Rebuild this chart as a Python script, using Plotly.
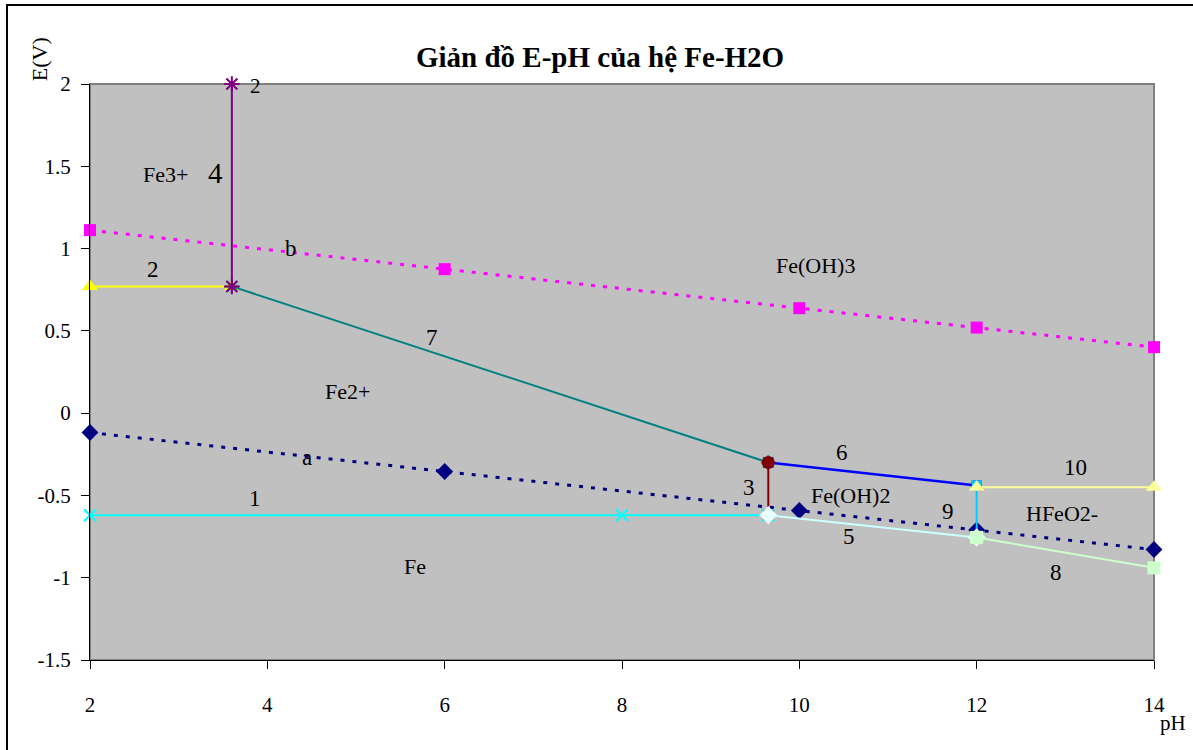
import plotly.graph_objects as go

# Water stability lines a and b (E vs pH)
ph_ab = [2, 6, 10, 12, 14]
e_a = [-0.118, -0.355, -0.592, -0.710, -0.829]
e_b = [1.112, 0.875, 0.638, 0.520, 0.401]

# Boundary lines of the Fe-H2O system, numbered 1..10
ph_1 = [2, 8, 9.65]
e_1 = [-0.62, -0.62, -0.62]
ph_2 = [2, 3.6]
e_2 = [0.77, 0.77]
ph_3 = [9.65, 9.65]
e_3 = [-0.30, -0.62]
ph_4 = [3.6, 3.6]
e_4 = [0.77, 2.0]
ph_5 = [9.65, 12]
e_5 = [-0.62, -0.755]
ph_6 = [9.65, 12]
e_6 = [-0.30, -0.44]
ph_7 = [3.6, 9.65]
e_7 = [0.77, -0.30]
ph_8 = [12, 14]
e_8 = [-0.755, -0.94]
ph_9 = [12, 12]
e_9 = [-0.44, -0.755]
ph_10 = [12, 14]
e_10 = [-0.45, -0.45]

x_ticks = [2, 4, 6, 8, 10, 12, 14]
y_ticks = [-1.5, -1, -0.5, 0, 0.5, 1, 1.5, 2]

FONT = "Liberation Serif, Times New Roman, serif"

# (text, pH, E, font size)
labels = [
    ("Fe3+", 2.85, 1.45, 22),
    ("4", 3.42, 1.46, 29),
    ("2", 3.87, 1.99, 21),
    ("b", 4.27, 1.00, 23),
    ("2", 2.71, 0.87, 23),
    ("Fe(OH)3", 10.18, 0.90, 22),
    ("7", 5.86, 0.46, 23),
    ("Fe2+", 4.90, 0.13, 22),
    ("a", 4.45, -0.27, 23),
    ("1", 3.86, -0.52, 23),
    ("Fe", 5.67, -0.93, 22),
    ("6", 10.48, -0.24, 23),
    ("10", 13.12, -0.33, 23),
    ("3", 9.43, -0.45, 23),
    ("Fe(OH)2", 10.58, -0.50, 22),
    ("9", 11.68, -0.60, 23),
    ("HFeO2-", 12.96, -0.61, 22),
    ("5", 10.56, -0.75, 23),
    ("8", 12.89, -0.97, 23),
]

fig = go.Figure()


def add_line(x, y, color, width, symbol, msize, mcolor, dash="solid", mline=None):
    marker = dict(symbol=symbol, size=msize, color=mcolor)
    if mline is not None:
        marker["line"] = mline
    fig.add_trace(go.Scatter(
        x=x, y=y, mode="lines+markers", cliponaxis=False,
        line=dict(color=color, width=width, dash=dash),
        marker=marker, hoverinfo="skip", showlegend=False,
    ))


add_line(ph_ab, e_a, "#000080", 3, "diamond", 13, "#000080", dash="4px,8px")
add_line(ph_ab, e_b, "#FF00FF", 3, "square", 12, "#FF00FF", dash="4px,8px")
add_line(ph_1, e_1, "#00FFFF", 2, "x-thin-open", 12, "#00FFFF",
         mline=dict(color="#00FFFF", width=2))
add_line(ph_2, e_2, "#FFFF00", 2, "triangle-up", 14, "#FFFF00")
add_line(ph_7, e_7, "#008080", 2, "asterisk-open", 12, "#008080",
         mline=dict(color="#008080", width=2))
add_line(ph_6, e_6, "#0000FF", 2.5, "square", 10, "#0000FF")
add_line(ph_9, e_9, "#00CCFF", 2, "square", 10, "#00CCFF")
add_line(ph_3, e_3, "#800000", 2, "circle", 13, "#800000")
add_line(ph_5, e_5, "#CCFFFF", 2, "diamond", 14, "#E8FFFF")
add_line(ph_8, e_8, "#CCFFCC", 2, "square", 13, "#CCFFCC")
add_line(ph_10, e_10, "#FFFF99", 2, "triangle-up", 14, "#FFFF99")
add_line(ph_4, e_4, "#800080", 2, "asterisk-open", 13, "#800080",
         mline=dict(color="#800080", width=2))

for text, px, py, size in labels:
    fig.add_annotation(x=px, y=py, text=text, showarrow=False,
                       font=dict(family=FONT, size=size, color="black"))

# chart title and axis captions
fig.add_annotation(xref="paper", yref="paper", x=0.479, y=1.047,
                   xanchor="center", yanchor="middle",
                   text="<b>Giản đồ E-pH của hệ Fe-H2O</b>", showarrow=False,
                   font=dict(family=FONT, size=29, color="black"))
fig.add_annotation(xref="paper", yref="paper", x=-0.048, y=1.043,
                   xanchor="center", yanchor="middle",
                   text="E(V)", textangle=-90, showarrow=False,
                   font=dict(family=FONT, size=22, color="black"))
fig.add_annotation(xref="paper", yref="paper", x=1.018, y=-0.11,
                   xanchor="center", yanchor="middle",
                   text="pH", showarrow=False,
                   font=dict(family=FONT, size=21, color="black"))

# outer chart frame and plot-area border
fig.add_shape(type="rect", xref="paper", yref="paper",
              x0=-0.0780, y0=1.1372, x1=1.1, y1=-0.2,
              line=dict(color="black", width=2), layer="below")
fig.add_shape(type="rect", xref="paper", yref="paper",
              x0=0, y0=0, x1=1, y1=1,
              line=dict(color="#808080", width=2), layer="below")

fig.update_layout(
    width=1193, height=750,
    margin=dict(l=90, r=39, t=84, b=90),
    paper_bgcolor="white",
    plot_bgcolor="#C0C0C0",
    font=dict(family=FONT, size=21, color="black"),
)
fig.update_xaxes(
    range=[2, 14], tickvals=x_ticks, ticktext=[str(v) for v in x_ticks],
    showgrid=False, zeroline=False, showline=True, linecolor="black", linewidth=1,
    ticks="outside", ticklen=8, tickcolor="black", ticklabelstandoff=18,
    tickfont=dict(family=FONT, size=21),
)
fig.update_yaxes(
    range=[-1.5, 2], tickvals=y_ticks, ticktext=[f"{v:g}" for v in y_ticks],
    showgrid=False, zeroline=False, showline=True, linecolor="black", linewidth=1,
    ticks="outside", ticklen=8, tickcolor="black", ticklabelstandoff=6,
    tickfont=dict(family=FONT, size=21),
)

fig.write_html("out.html")
